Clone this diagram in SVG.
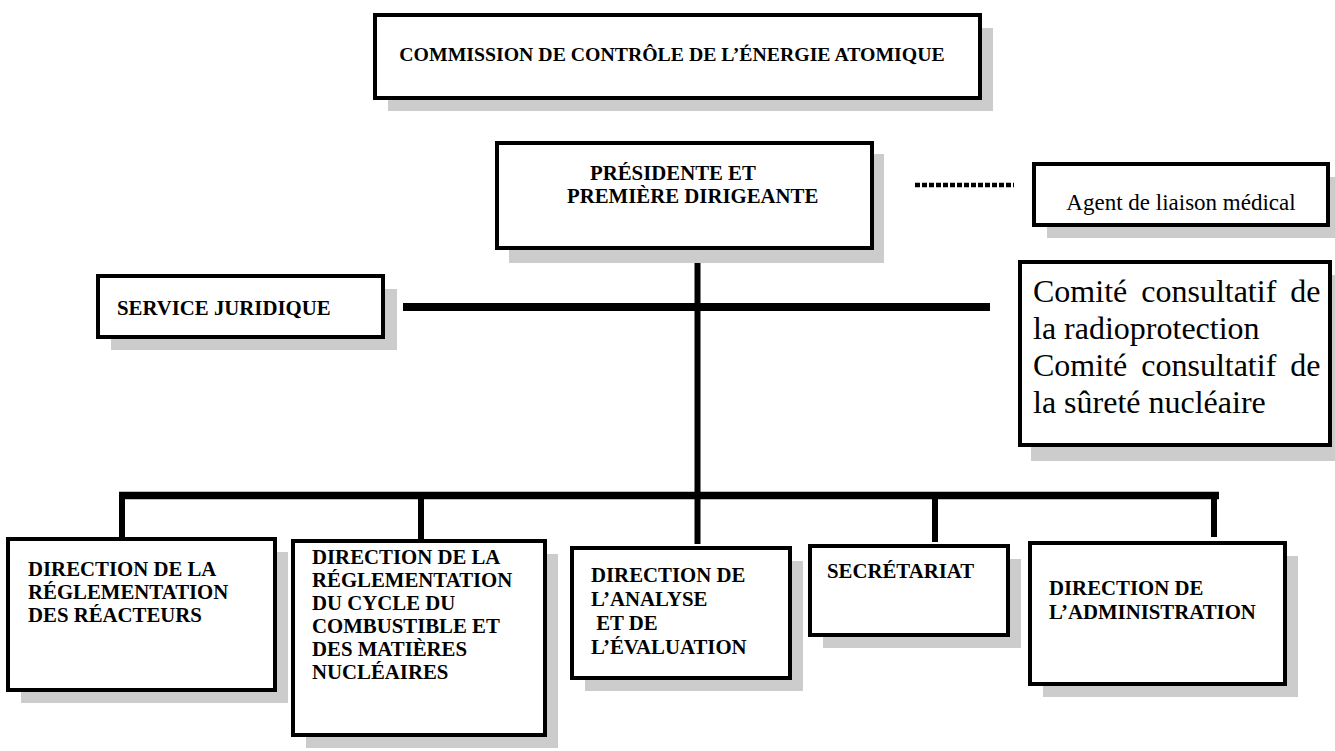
<svg xmlns="http://www.w3.org/2000/svg" width="1335" height="751" viewBox="0 0 1335 751">
<style>
.sh{fill:#cccccc}
.bx{fill:#ffffff;stroke:#000000;stroke-width:4}
.b{font-family:"Liberation Serif","Times New Roman",serif;font-weight:bold;font-size:20.8px;fill:#000000}
.t{font-family:"Liberation Serif","Times New Roman",serif;font-weight:bold;font-size:19.8px;fill:#000000}
.r{font-family:"Liberation Serif","Times New Roman",serif;fill:#000000}
.ln{stroke:#000000;fill:none}
.drop{stroke:#000000;stroke-width:6;fill:none}
</style>
<rect width="1335" height="751" fill="#ffffff"/>
<g id="connectors">
<line class="ln" x1="697.5" y1="250" x2="697.5" y2="496" stroke-width="6"/>
<line class="ln" x1="403" y1="307" x2="990" y2="307" stroke-width="8"/>
<line class="ln" x1="119" y1="495.5" x2="1219" y2="495.5" stroke-width="7.5"/>
<line class="drop" x1="122" y1="495" x2="122" y2="540"/>
<line class="drop" x1="421" y1="495" x2="421" y2="541"/>
<line class="drop" x1="697.5" y1="495" x2="697.5" y2="544"/>
<line class="drop" x1="935" y1="495" x2="935" y2="542"/>
<line class="drop" x1="1214" y1="495" x2="1214" y2="537"/>
<line class="ln" x1="915" y1="185" x2="1014" y2="185" stroke-width="4.5" stroke-dasharray="5 2"/>
</g>
<g id="commission">
<rect class="sh" x="388" y="28" width="605" height="83"/>
<rect class="bx" x="375" y="15" width="605" height="83"/>
<text class="t" x="672" y="61" text-anchor="middle">COMMISSION DE CONTRÔLE DE L’ÉNERGIE ATOMIQUE</text>
</g>
<g id="presidente">
<rect class="sh" x="509" y="154" width="375" height="109"/>
<rect class="bx" x="497" y="143" width="375" height="105"/>
<text class="b" x="590" y="180">PRÉSIDENTE ET</text>
<text class="b" x="567" y="203">PREMIÈRE DIRIGEANTE</text>
</g>
<g id="agent">
<rect class="sh" x="1047" y="177" width="295" height="61"/>
<rect class="bx" x="1034" y="164" width="294" height="61"/>
<text class="r" x="1181" y="210" font-size="23" text-anchor="middle">Agent de liaison médical</text>
</g>
<g id="service-juridique">
<rect class="sh" x="111" y="289" width="286" height="61"/>
<rect class="bx" x="98" y="276" width="285" height="61"/>
<text class="b" x="117" y="315">SERVICE JURIDIQUE</text>
</g>
<g id="comites">
<rect class="sh" x="1031" y="275" width="312" height="186"/>
<rect class="bx" x="1020" y="262" width="310" height="183"/>
<text class="r" x="1033" y="302" font-size="32" word-spacing="6">Comité consultatif de</text>
<text class="r" x="1033" y="339" font-size="32">la radioprotection</text>
<text class="r" x="1033" y="376" font-size="32" word-spacing="6">Comité consultatif de</text>
<text class="r" x="1033" y="413" font-size="32">la sûreté nucléaire</text>
</g>
<g id="dir-reacteurs">
<rect class="sh" x="21" y="552" width="267" height="151"/>
<rect class="bx" x="8" y="539" width="267" height="151"/>
<text class="b" x="28" y="576">DIRECTION DE LA</text>
<text class="b" x="28" y="599">RÉGLEMENTATION</text>
<text class="b" x="28" y="622">DES RÉACTEURS</text>
</g>
<g id="dir-cycle">
<rect class="sh" x="306" y="554" width="252" height="194"/>
<rect class="bx" x="293" y="541" width="252" height="194"/>
<text class="b" x="312" y="564">DIRECTION DE LA</text>
<text class="b" x="312" y="587">RÉGLEMENTATION</text>
<text class="b" x="312" y="610">DU CYCLE DU</text>
<text class="b" x="312" y="633">COMBUSTIBLE ET</text>
<text class="b" x="312" y="656">DES MATIÈRES</text>
<text class="b" x="312" y="679">NUCLÉAIRES</text>
</g>
<g id="dir-analyse">
<rect class="sh" x="585" y="561" width="218" height="130"/>
<rect class="bx" x="572" y="548" width="218" height="130"/>
<text class="b" x="591" y="582">DIRECTION DE</text>
<text class="b" x="591" y="606">L’ANALYSE</text>
<text class="b" x="591" y="630" xml:space="preserve"> ET DE</text>
<text class="b" x="591" y="654">L’ÉVALUATION</text>
</g>
<g id="secretariat">
<rect class="sh" x="823" y="559" width="198" height="89"/>
<rect class="bx" x="810" y="546" width="198" height="89"/>
<text class="b" x="827" y="578">SECRÉTARIAT</text>
</g>
<g id="dir-administration">
<rect class="sh" x="1043" y="556" width="255" height="141"/>
<rect class="bx" x="1030" y="543" width="255" height="141"/>
<text class="b" x="1049" y="595">DIRECTION DE</text>
<text class="b" x="1049" y="619">L’ADMINISTRATION</text>
</g>
</svg>
